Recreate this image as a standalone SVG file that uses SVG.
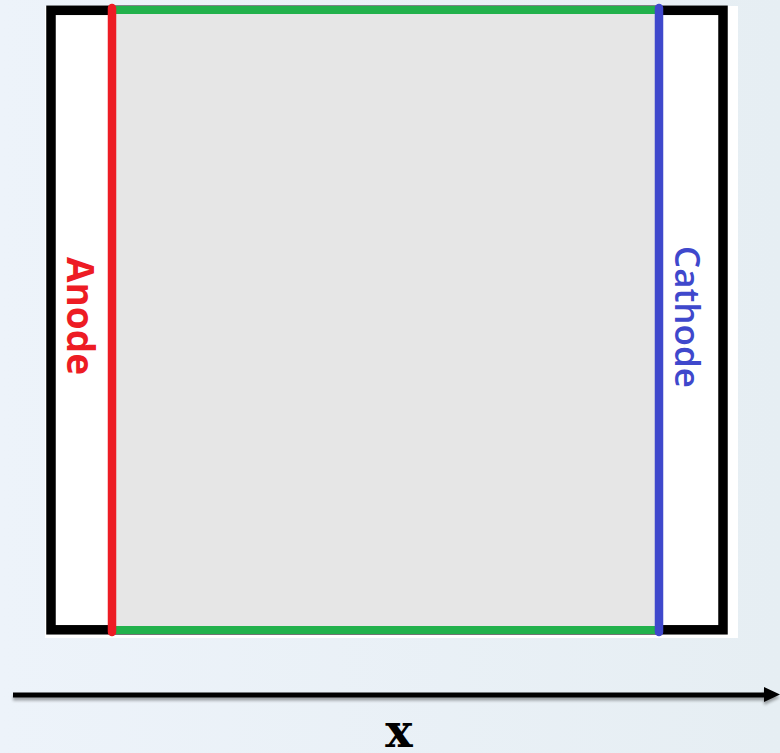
<svg xmlns="http://www.w3.org/2000/svg" width="780" height="753" viewBox="0 0 780 753">
<defs>
<linearGradient id="bg" x1="0" y1="0" x2="1" y2="0">
<stop offset="0" stop-color="#edf3fa"/>
<stop offset="1" stop-color="#e6eef3"/>
</linearGradient>
<filter id="sh" x="-5%" y="-200%" width="110%" height="500%">
<feGaussianBlur in="SourceAlpha" stdDeviation="1.5"/>
<feOffset dy="3"/>
<feComponentTransfer><feFuncA type="linear" slope="0.35"/></feComponentTransfer>
<feMerge><feMergeNode/><feMergeNode in="SourceGraphic"/></feMerge>
</filter>
<style>
.lbl{font-family:"Open Sans","Liberation Sans",sans-serif}
</style>
</defs>
<rect width="780" height="753" fill="url(#bg)"/>
<g id="cell">
<rect x="45" y="6" width="693" height="632" fill="#ffffff"/>
<rect x="51" y="10.3" width="672" height="619.5" fill="#ffffff" stroke="#000000" stroke-width="9.5"/>
<rect x="112" y="10" width="547" height="620" fill="#e6e6e6"/>
</g>
<g id="electrolyte-bounds">
<line x1="112" y1="10" x2="659" y2="10" stroke="#22b14c" stroke-width="8"/>
<line x1="112" y1="630" x2="659" y2="630" stroke="#22b14c" stroke-width="8"/>
</g>
<g id="anode">
<line x1="112" y1="8" x2="112" y2="632" stroke="#ed1c24" stroke-width="8.5" stroke-linecap="round"/>
<text class="lbl" transform="translate(67,257) rotate(90)" font-size="37" fill="#ed1c24" font-weight="bold">Anode</text>
</g>
<g id="cathode">
<line x1="659" y1="8" x2="659" y2="632" stroke="#3f48cc" stroke-width="8.5" stroke-linecap="round"/>
<text class="lbl" transform="translate(675,246) rotate(90)" font-size="35" fill="#3f48cc" font-weight="600">Cathode</text>
</g>
<g id="axis" filter="url(#sh)">
<line x1="13" y1="695" x2="766" y2="695" stroke="#000000" stroke-width="5"/>
<polygon points="764,687 780,694.5 764,702" fill="#000000"/>
</g>
<text x="399" y="747" text-anchor="middle" font-family="DejaVu Serif, serif" font-weight="bold" font-size="46" fill="#000000">x</text>
</svg>
